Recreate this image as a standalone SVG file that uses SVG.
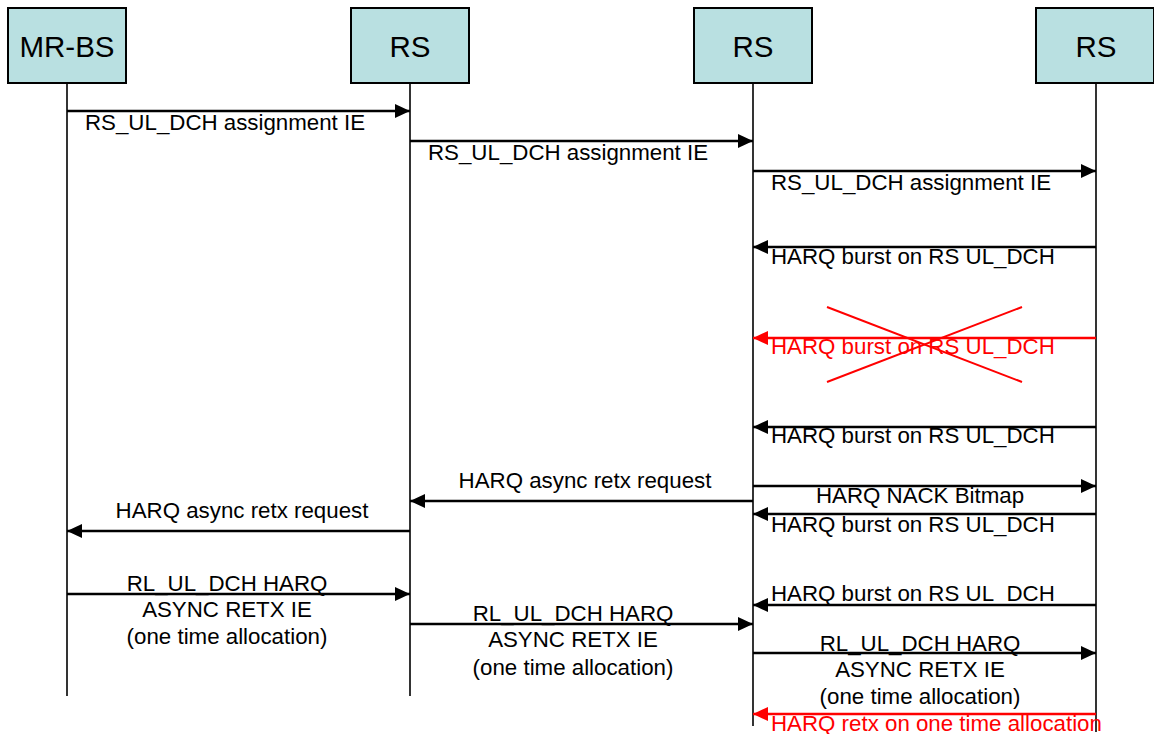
<svg xmlns="http://www.w3.org/2000/svg" width="1154" height="734" viewBox="0 0 1154 734">
<defs>
<marker id="ah" markerUnits="userSpaceOnUse" markerWidth="16" markerHeight="14" refX="15" refY="7" orient="auto"><path d="M0,0 L15,7 L0,14 Z" fill="#000"/></marker>
<marker id="ahr" markerUnits="userSpaceOnUse" markerWidth="16" markerHeight="14" refX="15" refY="7" orient="auto"><path d="M0,0 L15,7 L0,14 Z" fill="#ff0000"/></marker>
<style>
.box{fill:#b9e0e1;stroke:#000;stroke-width:2}
.bt{font-family:"Liberation Sans",Arial,sans-serif;font-size:29.5px;fill:#000;text-anchor:middle}
.life{stroke:#000;stroke-width:1.6}
.msg{stroke:#000;stroke-width:2.6;marker-end:url(#ah)}
.red{stroke:#ff0000;stroke-width:2.6;marker-end:url(#ahr)}
.t{font-family:"Liberation Sans",Arial,sans-serif;font-size:22.3px;fill:#000}
.tr{font-family:"Liberation Sans",Arial,sans-serif;font-size:22.3px;fill:#ff0000}
.c{text-anchor:middle}
</style>
</defs>
<rect width="1154" height="734" fill="#fff"/>
<g id="mrbs"><rect class="box" x="8" y="8" width="118" height="75"/><text class="bt" x="67" y="57">MR-BS</text><line class="life" x1="67" y1="83" x2="67" y2="696"/></g>
<g id="rs1"><rect class="box" x="351" y="8" width="118" height="75"/><text class="bt" x="410" y="57">RS</text><line class="life" x1="410" y1="83" x2="410" y2="696"/></g>
<g id="rs2"><rect class="box" x="694" y="8" width="118" height="75"/><text class="bt" x="753" y="57">RS</text><line class="life" x1="753" y1="83" x2="753" y2="726"/></g>
<g id="rs3"><rect class="box" x="1036" y="8" width="118" height="75"/><text class="bt" x="1096" y="57">RS</text><line class="life" x1="1096" y1="83" x2="1096" y2="732"/></g>
<g id="connectors">
<line class="msg" x1="67" y1="111" x2="410" y2="111"/>
<line class="msg" x1="410" y1="141" x2="753" y2="141"/>
<line class="msg" x1="753" y1="171" x2="1096" y2="171"/>
<line class="msg" x1="1096" y1="247" x2="753" y2="247"/>
<line class="red" x1="1096" y1="338" x2="753" y2="338"/>
<line class="msg" x1="1096" y1="427" x2="753" y2="427"/>
<line class="msg" x1="753" y1="486" x2="1096" y2="486"/>
<line class="msg" x1="753" y1="501" x2="410" y2="501"/>
<line class="msg" x1="1096" y1="514" x2="753" y2="514"/>
<line class="msg" x1="410" y1="531" x2="67" y2="531"/>
<line class="msg" x1="67" y1="594" x2="410" y2="594"/>
<line class="msg" x1="1096" y1="605" x2="753" y2="605"/>
<line class="msg" x1="410" y1="624" x2="753" y2="624"/>
<line class="msg" x1="753" y1="653" x2="1096" y2="653"/>
<line class="red" x1="1096" y1="714" x2="753" y2="714"/>
</g>
<g id="labels">
<text class="t" x="85" y="130">RS_UL_DCH assignment IE</text>
<text class="t" x="428" y="160">RS_UL_DCH assignment IE</text>
<text class="t" x="771" y="190">RS_UL_DCH assignment IE</text>
<text class="t" x="771" y="264">HARQ burst on RS UL_DCH</text>
<text class="tr" x="771" y="354">HARQ burst on RS UL_DCH</text>
<text class="t" x="771" y="443">HARQ burst on RS UL_DCH</text>
<text class="t c" x="585" y="488">HARQ async retx request</text>
<text class="t c" x="920" y="503">HARQ NACK Bitmap</text>
<text class="t" x="771" y="532">HARQ burst on RS UL_DCH</text>
<text class="t c" x="242" y="518">HARQ async retx request</text>
<text class="t c" x="227" y="591">RL_UL_DCH HARQ</text>
<text class="t c" x="227" y="617">ASYNC RETX IE</text>
<text class="t c" x="227" y="644">(one time allocation)</text>
<text class="t" x="771" y="601">HARQ burst on RS UL_DCH</text>
<text class="t c" x="573" y="621">RL_UL_DCH HARQ</text>
<text class="t c" x="573" y="647">ASYNC RETX IE</text>
<text class="t c" x="573" y="675">(one time allocation)</text>
<text class="t c" x="920" y="651">RL_UL_DCH HARQ</text>
<text class="t c" x="920" y="677">ASYNC RETX IE</text>
<text class="t c" x="920" y="704">(one time allocation)</text>
<text class="tr" x="771" y="731">HARQ retx on one time allocation</text>
</g>
<g id="cross" stroke="#ff0000" stroke-width="2">
<line x1="827" y1="307" x2="1022" y2="382"/>
<line x1="827" y1="382" x2="1022" y2="307"/>
</g>
</svg>
